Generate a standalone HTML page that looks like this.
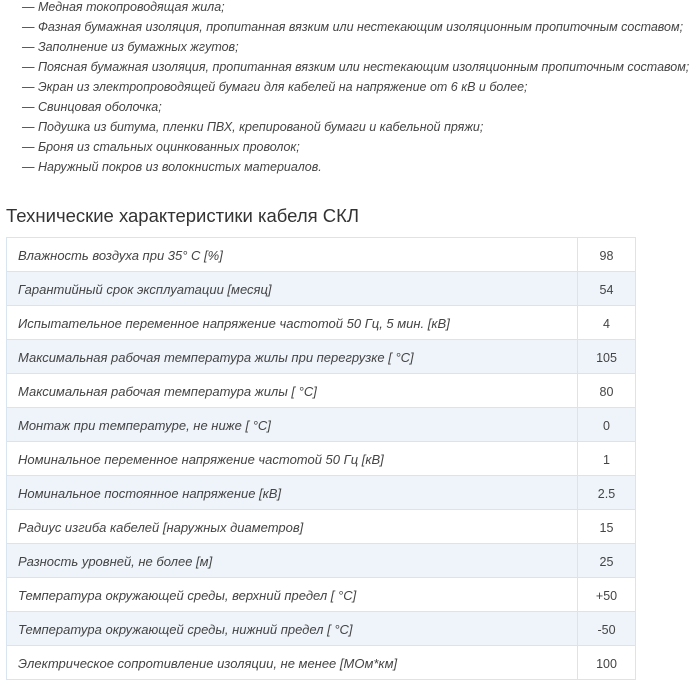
<!DOCTYPE html>
<html><head><meta charset="utf-8"><style>
body{margin:0;background:#fff;font-family:"Liberation Sans",sans-serif;color:#444;}
.list{position:absolute;left:22px;top:-3px;font-size:12.5px;font-style:italic;line-height:20px;color:#444;white-space:nowrap}
h3{position:absolute;left:6px;top:205px;margin:0;font-weight:normal;font-size:18.5px;color:#333;}
table{position:absolute;left:6px;top:237px;border-collapse:collapse;width:630px;font-size:13px;}
td{border:1px solid #d8e5f0;height:33px;padding:3px 0 0 11px;color:#444;line-height:16px;box-sizing:border-box;}
td.i{font-style:italic;}
td.v{width:58px;padding:3px 0 0 0;text-align:center;font-size:12.5px;}
tr{height:34px}
tr:nth-child(even) td{background:#eef4fa;}
</style></head><body>
<div class="list">
— Медная токопроводящая жила;<br>
— Фазная бумажная изоляция, пропитанная вязким или нестекающим изоляционным пропиточным составом;<br>
— Заполнение из бумажных жгутов;<br>
— Поясная бумажная изоляция, пропитанная вязким или нестекающим изоляционным пропиточным составом;<br>
— Экран из электропроводящей бумаги для кабелей на напряжение от 6 кВ и более;<br>
— Свинцовая оболочка;<br>
— Подушка из битума, пленки ПВХ, крепированой бумаги и кабельной пряжи;<br>
— Броня из стальных оцинкованных проволок;<br>
— Наружный покров из волокнистых материалов.
</div>
<h3>Технические характеристики кабеля СКЛ</h3>
<table>
<tr><td class="i">Влажность воздуха при 35° С [%]</td><td class="v">98</td></tr>
<tr><td class="i">Гарантийный срок эксплуатации [месяц]</td><td class="v">54</td></tr>
<tr><td class="i">Испытательное переменное напряжение частотой 50 Гц, 5 мин. [кВ]</td><td class="v">4</td></tr>
<tr><td class="i">Максимальная рабочая температура жилы при перегрузке [ °С]</td><td class="v">105</td></tr>
<tr><td class="i">Максимальная рабочая температура жилы [ °С]</td><td class="v">80</td></tr>
<tr><td class="i">Монтаж при температуре, не ниже [ °С]</td><td class="v">0</td></tr>
<tr><td class="i">Номинальное переменное напряжение частотой 50 Гц [кВ]</td><td class="v">1</td></tr>
<tr><td class="i">Номинальное постоянное напряжение [кВ]</td><td class="v">2.5</td></tr>
<tr><td class="i">Радиус изгиба кабелей [наружных диаметров]</td><td class="v">15</td></tr>
<tr><td class="i">Разность уровней, не более [м]</td><td class="v">25</td></tr>
<tr><td class="i">Температура окружающей среды, верхний предел [ °С]</td><td class="v">+50</td></tr>
<tr><td class="i">Температура окружающей среды, нижний предел [ °С]</td><td class="v">-50</td></tr>
<tr><td class="i">Электрическое сопротивление изоляции, не менее [МОм*км]</td><td class="v">100</td></tr>
</table>
</body></html>
